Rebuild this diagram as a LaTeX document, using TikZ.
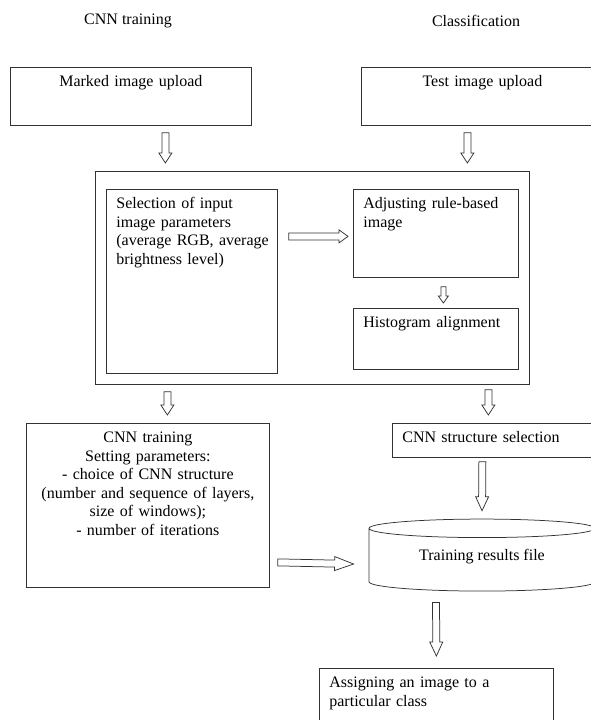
\documentclass[tikz,border=0pt]{standalone}
\usepackage{fontspec}
\setmainfont{Liberation Serif}
\usetikzlibrary{calc,shapes.geometric}
\newcommand{\puntaflecha}{10pt}
\newcommand{\anchoflecha}{3.5pt}
\newcommand{\cabezaflecha}{6.5pt}
\tikzset{punta/.code={\def\puntaflecha{#1}},
  cabeza/.code={\def\cabezaflecha{#1}},
  ancho/.code={\def\anchoflecha{#1}}}
\tikzstyle{caja}=[draw=black!80, line width=0.75pt, anchor=north west,
  align=left, inner xsep=10pt, inner ysep=8.5pt, text height=11pt]
\tikzstyle{cajac}=[caja, align=center]
\tikzstyle{marco}=[draw=black!80, line width=0.75pt, anchor=north west,
  minimum width=434pt, minimum height=213pt]
\tikzstyle{titulo}=[inner sep=0pt]
\tikzstyle{archivo}=[cylinder, shape border rotate=90, aspect=0.14,
  draw=black!80, line width=0.75pt, minimum width=226pt, minimum height=72pt,
  text depth=13pt]
\tikzstyle{flecha}=[draw=black!80, line width=0.75pt, to path={
  let \p1=(\tikztostart), \p2=(\tikztotarget),
      \n1={atan2(\y2-\y1,\x2-\x1)}, \n2={veclen(\x2-\x1,\y2-\y1)} in
  (\p1) ++(\n1+90:\anchoflecha) -- ++(\n1:{\n2-\puntaflecha})
  -- ++(\n1+90:{\cabezaflecha-\anchoflecha}) -- (\p2)
  -- ($(\p1)+(\n1:{\n2-\puntaflecha})+(\n1-90:\cabezaflecha)$)
  -- ++(\n1+90:{\cabezaflecha-\anchoflecha})
  -- ($(\p1)+(\n1-90:\anchoflecha)$) -- cycle}]
\newcommand{\caja}[5]{node (#1) [#2, text width=#3, text depth=#4] {#5}}

\begin{document}
\begin{tikzpicture}[x=1pt, y=-1pt, font=\fontsize{16pt}{18.5pt}\selectfont]
\useasboundingbox (0,0) rectangle (590,720);

  % Column titles
\path (128,21) node (tcnn) [titulo] {CNN training};
\path (476,21) node (tcla) [titulo] {Classification};

  % Upload boxes
\path (10,67) \caja{m1}{cajac}{221pt}{30pt}{Marked image upload};
\path (m1.north west)+(351,0) \caja{t1}{cajac}{222pt}{30pt}{Test image upload};

  % Preprocessing block
\path (m1.north west)+(85,104) node (pre) [marco] {};
\path (pre.north west)+(11,18) \caja{sel}{caja}{151pt}{156pt}{Selection of input\\image parameters\\\mbox{(average RGB, average}\\brightness level)};
\path (pre.north west)+(258,18) \caja{adj}{caja}{145pt}{60pt}{Adjusting rule-based\\image};
\path (adj.north west)+(0,119) \caja{hist}{caja}{145pt}{33pt}{Histogram alignment};

  % Training and classification
\path (m1.north west)+(16,356) \caja{train}{cajac}{223pt}{136pt}{CNN training\\Setting parameters:\\- choice of CNN structure\\(number and sequence of layers,\\size of windows);\\- number of iterations};
\path (train.north west)+(366,0) \caja{struct}{caja}{188pt}{6pt}{CNN structure selection};
\path (struct.north west)+(90,138) node (res) [archivo] {Training results file};
\path (train.north west)+(293,245) \caja{asig}{caja}{214pt}{44pt}{Assigning an image to a\\particular class};

  % Draw arrows between elements
\draw [flecha] ([shift={(34.5,7)}]m1.south) to ([shift={(-147,-8)}]pre.north);
\draw [flecha] ([shift={(-15,7)}]t1.south) to ([shift={(155,-8)}]pre.north);
\draw [flecha, punta=9pt] ([shift={(11,-45)}]sel.east) to ([shift={(-5,3)}]adj.west);
\draw [flecha, punta=7pt, ancho=2.5pt, cabeza=5pt] ([shift={(7.5,9)}]adj.south) to ([shift={(7.5,-5)}]hist.north);
\draw [flecha] ([shift={(-145,7)}]pre.south) to ([shift={(19.5,-8)}]train.north);
\draw [flecha] ([shift={(176,5)}]pre.south) to ([shift={(-8,-8)}]struct.north);
\draw [flecha, punta=14pt] ([shift={(-14,4)}]struct.south) to ([shift={(0,-8)}]res.north);
\draw [flecha, punta=19pt, cabeza=7pt] ([shift={(8,57)}]train.east) to ([shift={(-15,3)}]res.west);
\draw [flecha, punta=14pt] ([shift={(-46,11)}]res.south) to ([shift={(0,-12)}]asig.north);
\end{tikzpicture}
\end{document}
